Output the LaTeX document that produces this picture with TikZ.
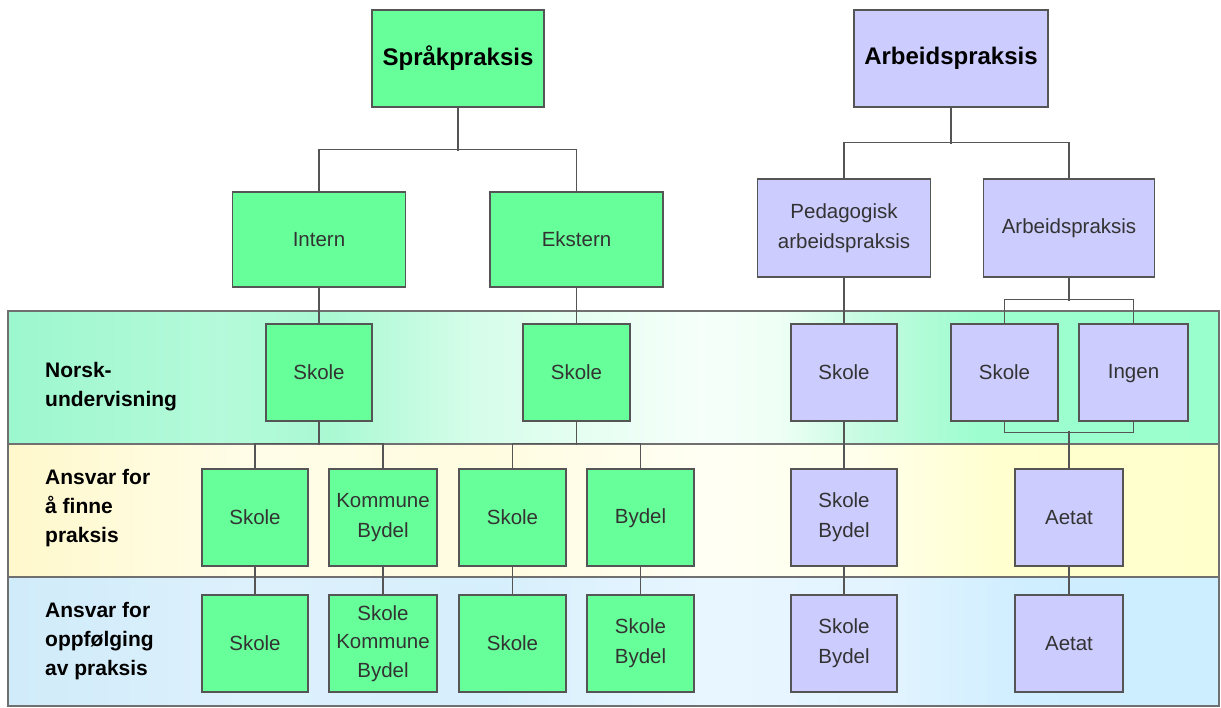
\documentclass[tikz,border=0pt]{standalone}
\usepackage{fontspec}
\setmainfont{Liberation Sans}
\definecolor{boxgreen}{HTML}{66FF99}
\definecolor{boxpurple}{HTML}{CCCCFF}
\definecolor{edgecol}{HTML}{555555}
\definecolor{txtcol}{HTML}{333333}
\definecolor{bandline}{HTML}{707070}
% band 1 (green)
\definecolor{gA}{HTML}{9CF7CE}
\definecolor{gB}{HTML}{B5FADA}
\definecolor{gC}{HTML}{A9F9D3}
\definecolor{gD}{HTML}{D5FDE9}
\definecolor{gE}{HTML}{F6FFFA}
\definecolor{gF}{HTML}{EEFFF5}
\definecolor{gG}{HTML}{C6FBE1}
\definecolor{gH}{HTML}{9DFDCF}
\definecolor{gI}{HTML}{99FFCC}
% band 2 (yellow)
\definecolor{yA}{HTML}{FFF8CC}
\definecolor{yB}{HTML}{FFFDE8}
\definecolor{yC}{HTML}{FFFCE0}
\definecolor{yD}{HTML}{FFFFF4}
\definecolor{yE}{HTML}{FFFFEC}
\definecolor{yF}{HTML}{FFFFCF}
\definecolor{yG}{HTML}{FFFFCC}
% band 3 (blue)
\definecolor{bA}{HTML}{D0EBFA}
\definecolor{bB}{HTML}{DDF1FC}
\definecolor{bC}{HTML}{D6EFFC}
\definecolor{bD}{HTML}{E8F6FF}
\definecolor{bE}{HTML}{E3F4FF}
\definecolor{bF}{HTML}{CFEEFF}
\definecolor{bG}{HTML}{CCEEFF}
\pgfdeclarehorizontalshading{bandone}{100bp}{color(0bp)=(gA); color(25bp)=(gA); color(33.7bp)=(gB); color(38.3bp)=(gC); color(44.1bp)=(gD); color(53.6bp)=(gE); color(56.9bp)=(gF); color(60.2bp)=(gG); color(65.1bp)=(gH); color(75bp)=(gI); color(100bp)=(gI)}
\pgfdeclarehorizontalshading{bandtwo}{100bp}{color(0bp)=(yA); color(25bp)=(yA); color(35bp)=(yB); color(45bp)=(yC); color(54bp)=(yD); color(60bp)=(yE); color(66bp)=(yF); color(75bp)=(yG); color(100bp)=(yG)}
\pgfdeclarehorizontalshading{bandthree}{100bp}{color(0bp)=(bA); color(25bp)=(bA); color(35bp)=(bB); color(45bp)=(bC); color(54bp)=(bD); color(61bp)=(bE); color(67bp)=(bF); color(75bp)=(bG); color(100bp)=(bG)}
\begin{document}
\begin{tikzpicture}[x=1pt,y=-1pt,
  every node/.style={inner sep=0pt},
  gbox/.style={draw=edgecol, line width=1.4pt, fill=boxgreen, text=txtcol, align=center,
    font=\fontsize{20.5}{30}\selectfont},
  pbox/.style={gbox, fill=boxpurple},
  title/.style={font=\fontsize{24}{29}\bfseries\selectfont, text=black},
  rowlabel/.style={anchor=west, align=left, text=black, font=\fontsize{21}{29}\bfseries\selectfont},
  conn/.style={draw=edgecol, line width=1.4pt},
  band/.style={draw=bandline, line width=1.5pt}]
\useasboundingbox (0,0) rectangle (1221,707);

% bands
\path[band, shading=bandone] (8,311) rectangle (1219,444);
\path[band, shading=bandtwo] (8,444) rectangle (1219,577);
\path[band, shading=bandthree] (8,577) rectangle (1219,706);

% row labels
\node[rowlabel] (l1) at (45,387) {Norsk-\\undervisning};
\node[rowlabel] (l2) at (45,508) {Ansvar for\\å finne\\praksis};
\node[rowlabel] (l3) at (45,641) {Ansvar for\\oppfølging\\av praksis};

% top level
\node[gbox, title, minimum width=172, minimum height=97] (sp) at (458,58.5) {Språkpraksis};
\node[pbox, title, minimum width=194, minimum height=97] (ap) at (951,58.5) {Arbeidspraksis};

% second level
\node[gbox, minimum width=173, minimum height=95] (intern) at (319,239.5) {Intern};
\node[gbox, minimum width=173, minimum height=95] (ekstern) at (576.5,239.5) {Ekstern};
\node[pbox, minimum width=173, minimum height=98] (ped) at (844,228) {Pedagogisk\\arbeidspraksis};
\node[pbox, minimum width=171, minimum height=98] (arb) at (1069,228) {Arbeidspraksis};

% row 1
\node[gbox, minimum width=106, minimum height=97] (s1) at (319,372.5) {Skole};
\node[gbox, minimum width=107, minimum height=97] (s2) at (576.5,372.5) {Skole};
\node[pbox, minimum width=106, minimum height=97] (s3) at (844,372.5) {Skole};
\node[pbox, minimum width=107, minimum height=97] (s4) at (1004.5,372.5) {Skole};
\node[pbox, minimum width=109, minimum height=97] (ingen) at (1133.5,372.5) {\strut Ingen};

% row 2
\node[gbox, minimum width=106, minimum height=97] (c1) at (255,517.5) {Skole};
\node[gbox, minimum width=108, minimum height=97] (c2) at (383,517.5) {Kommune\\Bydel};
\node[gbox, minimum width=107, minimum height=97] (c3) at (512.5,517.5) {Skole};
\node[gbox, minimum width=107, minimum height=97] (c4) at (640.5,517.5) {\strut Bydel};
\node[pbox, minimum width=106, minimum height=97] (c5) at (844,517.5) {Skole\\Bydel};
\node[pbox, minimum width=108, minimum height=97] (c6) at (1069,517.5) {Aetat};

% row 3
\node[gbox, minimum width=106, minimum height=97] (d1) at (255,643.5) {Skole};
\node[gbox, minimum width=108, minimum height=97, font=\fontsize{20.5}{28.5}\selectfont] (d2) at (383,643.5) {Skole\\Kommune\\Bydel};
\node[gbox, minimum width=107, minimum height=97] (d3) at (512.5,643.5) {Skole};
\node[gbox, minimum width=107, minimum height=97] (d4) at (640.5,643.5) {Skole\\Bydel};
\node[pbox, minimum width=106, minimum height=97] (d5) at (844,643.5) {Skole\\Bydel};
\node[pbox, minimum width=108, minimum height=97] (d6) at (1069,643.5) {Aetat};

% connectors: top trees
\draw[conn] (sp.south) -- ++(0,43);
\draw[conn] (intern.north) -- ++(0,-42) -| (ekstern.north);
\draw[conn] (ap.south) -- ++(0,36);
\draw[conn] (ped.north) -- ++(0,-36) -| (arb.north);

% level 2 to row 1
\draw[conn] (intern.south) -- (s1.north);
\draw[conn] (ekstern.south) -- (s2.north);
\draw[conn] (ped.south) -- (s3.north);
\draw[conn] (arb.south) -- ++(0,23);
\draw[conn] (s4.north) -- ++(0,-24) -| (ingen.north);

% row 1 to row 2
\draw[conn] (s1.south) -- ++(0,23);
\draw[conn] (c1.north) -- ++(0,-25) -| (c2.north);
\draw[conn] (s2.south) -- ++(0,23);
\draw[conn] (c3.north) -- ++(0,-25) -| (c4.north);
\draw[conn] (s3.south) -- (c5.north);
\draw[conn] (s4.south) -- ++(0,11) -| (ingen.south);
\draw[conn] (c6.north) -- ++(0,-37);

% row 2 to row 3
\draw[conn] (c1.south) -- (d1.north);
\draw[conn] (c2.south) -- (d2.north);
\draw[conn] (c3.south) -- (d3.north);
\draw[conn] (c4.south) -- (d4.north);
\draw[conn] (c5.south) -- (d5.north);
\draw[conn] (c6.south) -- (d6.north);
\end{tikzpicture}
\end{document}
